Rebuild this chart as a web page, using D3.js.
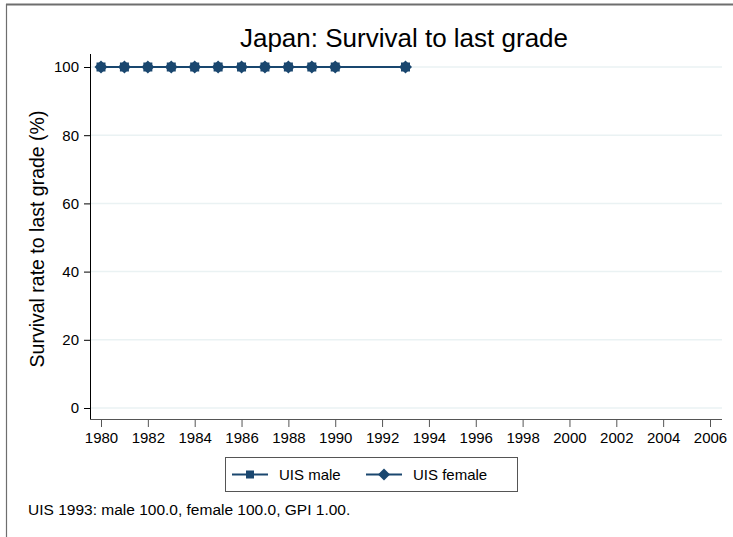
<!DOCTYPE html>
<html>
<head>
<meta charset="utf-8">
<script src="https://cdn.jsdelivr.net/npm/d3@7"></script>
<style>
  body { margin: 0; background: #fff; }
  svg { font-family: Arial, "Liberation Sans", sans-serif; }
</style>
</head>
<body>
<svg width="733" height="537"></svg>
<script>
// data
const years = [1980, 1981, 1982, 1983, 1984, 1985, 1986, 1987, 1988, 1989, 1990, 1993]
const maleValues = [100, 100, 100, 100, 100, 100, 100, 100, 100, 100, 100, 100]
const femaleValues = [100, 100, 100, 100, 100, 100, 100, 100, 100, 100, 100, 100]
const xTicks = d3.range(1980, 2007, 2)
const yTicks = [0, 20, 40, 60, 80, 100]
const navy = '#1a476f'
const fontFam = 'Arial, "Liberation Sans", sans-serif'

let svg = d3.select('svg')

// outer frame (only top and left edges visible)
svg.append('line').attr('x1', 6).attr('x2', 733).attr('y1', 4.5).attr('y2', 4.5)
  .attr('stroke', '#6e6e6e').attr('stroke-width', 2)
svg.append('line').attr('x1', 6.5).attr('x2', 6.5).attr('y1', 4).attr('y2', 537)
  .attr('stroke', '#6e6e6e').attr('stroke-width', 1.2)

let x = d3.scaleLinear().domain([1980, 2006]).range([101, 710])
let y = d3.scaleLinear().domain([0, 100]).range([408, 67])

// gridlines
svg.append('g').selectAll('line').data(yTicks).enter().append('line')
  .attr('x1', 90).attr('x2', 722)
  .attr('y1', d => y(d)).attr('y2', d => y(d))
  .attr('stroke', '#eaf2f3').attr('stroke-width', 1.5)

// y axis
let yAxis = svg.append('g').attr('transform', 'translate(90,0)')
  .call(d3.axisLeft(y).tickValues(yTicks).tickSize(6).tickPadding(5))
yAxis.select('.domain').attr('d', 'M0.5,54V419.5')
yAxis.selectAll('text').attr('fill', '#000')
  .style('font-size', '15px').style('font-family', fontFam)

// x axis
let xAxis = svg.append('g').attr('transform', 'translate(0,419)')
  .call(d3.axisBottom(x).tickValues(xTicks).tickFormat(d3.format('d')).tickSize(8).tickPadding(5))
xAxis.select('.domain').attr('d', 'M90,0.5H722').attr('stroke', '#555')
xAxis.selectAll('.tick line').attr('stroke', '#555')
xAxis.selectAll('text').attr('fill', '#000')
  .style('font-size', '15px').style('font-family', fontFam)

// title + axis title
svg.append('text').attr('x', 404).attr('y', 47).attr('text-anchor', 'middle')
  .attr('font-size', 26).text('Japan: Survival to last grade')
svg.append('text').attr('transform', 'translate(44,239) rotate(-90)')
  .attr('text-anchor', 'middle').attr('font-size', 19.5)
  .text('Survival rate to last grade (%)')

// series
let line = d3.line().x(d => x(d[0])).y(d => y(d[1]))
let male = years.map((yr, i) => [yr, maleValues[i]])
let female = years.map((yr, i) => [yr, femaleValues[i]])

svg.append('path').datum(male).attr('d', line)
  .attr('fill', 'none').attr('stroke', navy).attr('stroke-width', 2)
svg.append('path').datum(female).attr('d', line)
  .attr('fill', 'none').attr('stroke', navy).attr('stroke-width', 1.5)

function diamondPath(r) {
  return `M0,${-r}L${r},0L0,${r}L${-r},0Z`
}

svg.append('g').selectAll('rect').data(male).enter().append('rect')
  .attr('x', d => x(d[0]) - 4.5).attr('y', d => y(d[1]) - 4.5)
  .attr('width', 9).attr('height', 9).attr('fill', navy)
svg.append('g').selectAll('path').data(female).enter().append('path')
  .attr('transform', d => `translate(${x(d[0])},${y(d[1])})`)
  .attr('d', diamondPath(6.5)).attr('fill', navy)

// legend
let legend = svg.append('g')
legend.append('rect').attr('x', 225.5).attr('y', 457.5).attr('width', 292).attr('height', 34)
  .attr('fill', '#fff').attr('stroke', '#555').attr('stroke-width', 1)
legend.append('line').attr('x1', 232).attr('x2', 268).attr('y1', 474.5).attr('y2', 474.5)
  .attr('stroke', navy).attr('stroke-width', 2)
legend.append('rect').attr('x', 246).attr('y', 470.5).attr('width', 8).attr('height', 8).attr('fill', navy)
legend.append('text').attr('x', 279).attr('y', 480).attr('font-size', 15).text('UIS male')
legend.append('line').attr('x1', 366).attr('x2', 402).attr('y1', 474.5).attr('y2', 474.5)
  .attr('stroke', navy).attr('stroke-width', 2)
legend.append('path').attr('transform', 'translate(384,474.5)')
  .attr('d', diamondPath(6)).attr('fill', navy)
legend.append('text').attr('x', 413).attr('y', 480).attr('font-size', 15).text('UIS female')

// note
svg.append('text').attr('x', 28).attr('y', 515).attr('font-size', 15.5)
  .text('UIS 1993: male 100.0, female 100.0, GPI 1.00.')
</script>
</body>
</html>
